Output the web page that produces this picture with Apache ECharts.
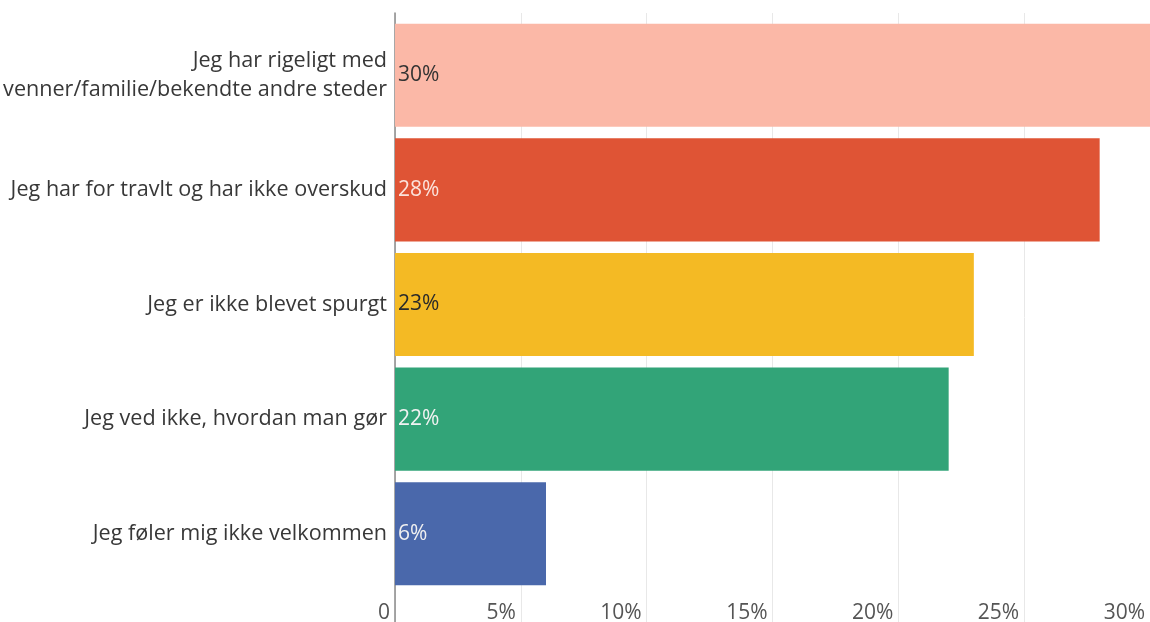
<!DOCTYPE html>
<html><head><meta charset="utf-8">
<script src="https://cdn.jsdelivr.net/npm/echarts@6/dist/echarts.min.js"></script>
<style>html,body{margin:0;padding:0;background:#fff}#c{width:1150px;height:622px}</style>
</head><body><div id="c"></div>
<script>
const categories = [
  "Jeg har rigeligt med\nvenner/familie/bekendte andre steder",
  "Jeg har for travlt og har ikke overskud",
  "Jeg er ikke blevet spurgt",
  "Jeg ved ikke, hvordan man gør",
  "Jeg føler mig ikke velkommen"
];
const values = [30, 28, 23, 22, 6];
const barColors = ["#FBB8A7", "#DF5435", "#F4BA24", "#32A478", "#4A68AB"];
const labelColors = ["#333333", "#fbe3dc", "#2a2a2a", "#f2f2f2", "#f0f0f0"];
const tickLabels = ["0", "5%", "10%", "15%", "20%", "25%", "30%"];

const FONT = "Open Sans";
const chart = echarts.init(document.getElementById('c'));
chart.setOption({
  animation: false,
  grid: [
    {left: 395, right: 0, top: 18, bottom: 31, containLabel: false, outerBoundsMode: 'none'},
    {left: 395, right: 0, top: 13, bottom: 0, containLabel: false, outerBoundsMode: 'none'}
  ],
  xAxis: [
    {gridIndex: 0, type: 'value', min: 0, max: 30, interval: 5,
     axisLine: {show: false}, axisTick: {show: false}, splitLine: {show: false},
     axisLabel: {align: 'right', margin: 12, padding: [0, 5, 0, 0], color: '#555', fontSize: 21, fontFamily: FONT,
       formatter: (v) => tickLabels[Math.round(v / 5)]}},
    {gridIndex: 1, type: 'value', min: 0, max: 30, interval: 5,
     axisLine: {show: false}, axisTick: {show: false}, axisLabel: {show: false},
     splitLine: {show: true, lineStyle: {color: '#e8e8e8', width: 1}}}
  ],
  yAxis: [
    {gridIndex: 0, type: 'category', data: categories, inverse: true,
     axisLine: {show: false}, axisTick: {show: false},
     axisLabel: {color: '#383838', fontSize: 21.6, fontFamily: FONT, margin: 8, lineHeight: 29, align: 'right',
       padding: [5, 0, 0, 0]}},
    {gridIndex: 1, type: 'category', data: [''],
     axisLine: {show: true, lineStyle: {color: '#8a8a8a', width: 1.5}}, axisTick: {show: false}, axisLabel: {show: false}}
  ],
  series: [{
    type: 'bar', xAxisIndex: 0, yAxisIndex: 0,
    data: values.map((v, i) => ({value: v, itemStyle: {color: barColors[i]},
      label: {color: labelColors[i]}})),
    barCategoryGap: '10%',
    label: {show: true, position: 'insideLeft', distance: 3, fontSize: 21, fontFamily: FONT,
      formatter: (p) => p.value + '%'}
  }]
});
</script></body></html>
